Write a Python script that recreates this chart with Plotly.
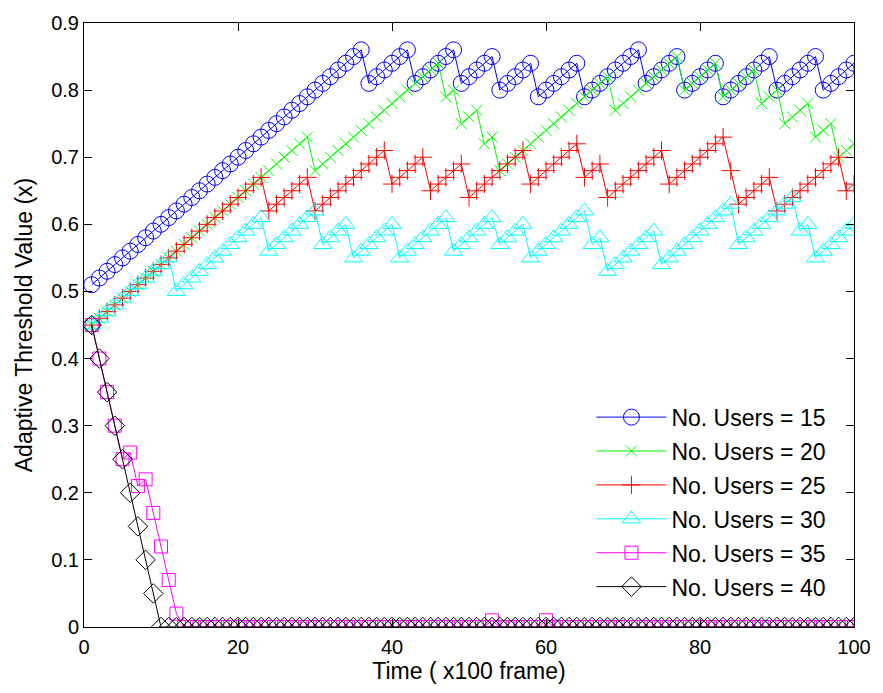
import plotly.graph_objects as go

# Time axis (x100 frame)
time = list(range(1, 101))

users_15 = [
    0.51, 0.52, 0.53, 0.54, 0.55, 0.56, 0.57, 0.58, 0.59, 0.60,
    0.61, 0.62, 0.63, 0.64, 0.65, 0.66, 0.67, 0.68, 0.69, 0.70,
    0.71, 0.72, 0.73, 0.74, 0.75, 0.76, 0.77, 0.78, 0.79, 0.80,
    0.81, 0.82, 0.83, 0.84, 0.85, 0.86, 0.81, 0.82, 0.83, 0.84,
    0.85, 0.86, 0.81, 0.82, 0.83, 0.84, 0.85, 0.86, 0.81, 0.82,
    0.83, 0.84, 0.85, 0.80, 0.81, 0.82, 0.83, 0.84, 0.79, 0.80,
    0.81, 0.82, 0.83, 0.84, 0.79, 0.80, 0.81, 0.82, 0.83, 0.84,
    0.85, 0.86, 0.81, 0.82, 0.83, 0.84, 0.85, 0.80, 0.81, 0.82,
    0.83, 0.84, 0.79, 0.80, 0.81, 0.82, 0.83, 0.84, 0.85, 0.80,
    0.81, 0.82, 0.83, 0.84, 0.85, 0.80, 0.81, 0.82, 0.83, 0.84,
]

users_20 = [
    0.45, 0.46, 0.47, 0.48, 0.49, 0.50, 0.51, 0.52, 0.53, 0.54,
    0.55, 0.56, 0.57, 0.58, 0.59, 0.60, 0.61, 0.62, 0.63, 0.64,
    0.65, 0.66, 0.67, 0.68, 0.69, 0.70, 0.71, 0.72, 0.73, 0.68,
    0.69, 0.70, 0.71, 0.72, 0.73, 0.74, 0.75, 0.76, 0.77, 0.78,
    0.79, 0.80, 0.81, 0.82, 0.83, 0.84, 0.79, 0.80, 0.75, 0.76,
    0.77, 0.72, 0.73, 0.68, 0.69, 0.70, 0.71, 0.72, 0.73, 0.74,
    0.75, 0.76, 0.77, 0.78, 0.79, 0.80, 0.81, 0.82, 0.77, 0.78,
    0.79, 0.80, 0.81, 0.82, 0.83, 0.84, 0.85, 0.80, 0.81, 0.82,
    0.83, 0.84, 0.79, 0.80, 0.81, 0.82, 0.83, 0.78, 0.79, 0.80,
    0.75, 0.76, 0.77, 0.78, 0.73, 0.74, 0.75, 0.70, 0.71, 0.72,
]

users_25 = [
    0.45, 0.46, 0.47, 0.48, 0.49, 0.50, 0.51, 0.52, 0.53, 0.54,
    0.55, 0.56, 0.57, 0.58, 0.59, 0.60, 0.61, 0.62, 0.63, 0.64,
    0.65, 0.66, 0.67, 0.62, 0.63, 0.64, 0.65, 0.66, 0.67, 0.62,
    0.63, 0.64, 0.65, 0.66, 0.67, 0.68, 0.69, 0.70, 0.71, 0.66,
    0.67, 0.68, 0.69, 0.70, 0.65, 0.66, 0.67, 0.68, 0.69, 0.64,
    0.65, 0.66, 0.67, 0.68, 0.69, 0.70, 0.71, 0.66, 0.67, 0.68,
    0.69, 0.70, 0.71, 0.72, 0.67, 0.68, 0.69, 0.64, 0.65, 0.66,
    0.67, 0.68, 0.69, 0.70, 0.71, 0.66, 0.67, 0.68, 0.69, 0.70,
    0.71, 0.72, 0.73, 0.68, 0.63, 0.64, 0.65, 0.66, 0.67, 0.62,
    0.63, 0.64, 0.65, 0.66, 0.67, 0.68, 0.69, 0.70, 0.65, 0.66,
]

users_30 = [
    0.45, 0.46, 0.47, 0.48, 0.49, 0.50, 0.51, 0.52, 0.53, 0.54,
    0.55, 0.50, 0.51, 0.52, 0.53, 0.54, 0.55, 0.56, 0.57, 0.58,
    0.59, 0.60, 0.61, 0.56, 0.57, 0.58, 0.59, 0.60, 0.61, 0.62,
    0.57, 0.58, 0.59, 0.60, 0.55, 0.56, 0.57, 0.58, 0.59, 0.60,
    0.55, 0.56, 0.57, 0.58, 0.59, 0.60, 0.61, 0.56, 0.57, 0.58,
    0.59, 0.60, 0.61, 0.57, 0.58, 0.59, 0.60, 0.55, 0.56, 0.57,
    0.58, 0.59, 0.60, 0.61, 0.62, 0.57, 0.58, 0.53, 0.54, 0.55,
    0.56, 0.57, 0.58, 0.59, 0.54, 0.55, 0.56, 0.57, 0.58, 0.59,
    0.60, 0.61, 0.62, 0.63, 0.57, 0.58, 0.59, 0.60, 0.61, 0.62,
    0.63, 0.64, 0.59, 0.60, 0.55, 0.56, 0.57, 0.58, 0.59, 0.60,
]

users_35 = [
    0.45, 0.40, 0.35, 0.30, 0.25, 0.26, 0.21, 0.22, 0.17, 0.12,
    0.07, 0.02, 0.00, 0.00, 0.00, 0.00, 0.00, 0.00, 0.00, 0.00,
    0.00, 0.00, 0.00, 0.00, 0.00, 0.00, 0.00, 0.00, 0.00, 0.00,
    0.00, 0.00, 0.00, 0.00, 0.00, 0.00, 0.00, 0.00, 0.00, 0.00,
    0.00, 0.00, 0.00, 0.00, 0.00, 0.00, 0.00, 0.00, 0.00, 0.00,
    0.00, 0.00, 0.01, 0.00, 0.00, 0.00, 0.00, 0.00, 0.00, 0.01,
    0.00, 0.00, 0.00, 0.00, 0.00, 0.00, 0.00, 0.00, 0.00, 0.00,
    0.00, 0.00, 0.00, 0.00, 0.00, 0.00, 0.00, 0.00, 0.00, 0.00,
    0.00, 0.00, 0.00, 0.00, 0.00, 0.00, 0.00, 0.00, 0.00, 0.00,
    0.00, 0.00, 0.00, 0.00, 0.00, 0.00, 0.00, 0.00, 0.00, 0.00,
]

users_40 = [
    0.45, 0.40, 0.35, 0.30, 0.25, 0.20, 0.15, 0.10, 0.05, 0.00,
    0.00, 0.00, 0.00, 0.00, 0.00, 0.00, 0.00, 0.00, 0.00, 0.00,
    0.00, 0.00, 0.00, 0.00, 0.00, 0.00, 0.00, 0.00, 0.00, 0.00,
    0.00, 0.00, 0.00, 0.00, 0.00, 0.00, 0.00, 0.00, 0.00, 0.00,
    0.00, 0.00, 0.00, 0.00, 0.00, 0.00, 0.00, 0.00, 0.00, 0.00,
    0.00, 0.00, 0.00, 0.00, 0.00, 0.00, 0.00, 0.00, 0.00, 0.00,
    0.00, 0.00, 0.00, 0.00, 0.00, 0.00, 0.00, 0.00, 0.00, 0.00,
    0.00, 0.00, 0.00, 0.00, 0.00, 0.00, 0.00, 0.00, 0.00, 0.00,
    0.00, 0.00, 0.00, 0.00, 0.00, 0.00, 0.00, 0.00, 0.00, 0.00,
    0.00, 0.00, 0.00, 0.00, 0.00, 0.00, 0.00, 0.00, 0.00, 0.00,
]

series_names = ["No. Users = 15", "No. Users = 20", "No. Users = 25",
                "No. Users = 30", "No. Users = 35", "No. Users = 40"]
series_values = [users_15, users_20, users_25, users_30, users_35, users_40]

x_ticks = [0, 20, 40, 60, 80, 100]
y_ticks = [0, 0.1, 0.2, 0.3, 0.4, 0.5, 0.6, 0.7, 0.8, 0.9]
y_tick_text = ["0", "0.1", "0.2", "0.3", "0.4", "0.5", "0.6", "0.7", "0.8", "0.9"]

styles = [
    ("#0000ff", "circle-open", 16),
    ("#00ff00", "x-thin-open", 11),
    ("#ff0000", "cross-thin-open", 13),
    ("#00ffff", "triangle-up-open", 16),
    ("#ff00ff", "square-open", 13),
    ("#000000", "diamond-open", 15),
]

FONT = "Liberation Sans, Arial, Helvetica, sans-serif"

fig = go.Figure()
for i, (name, vals, (color, symbol, size)) in enumerate(
        zip(series_names, series_values, styles)):
    fig.add_trace(go.Scatter(
        x=time, y=vals, name=name, mode="lines+markers",
        legendgroup=f"series{i}",
        line=dict(color=color, width=1),
        marker=dict(symbol=symbol, size=size, color=color,
                    line=dict(color=color, width=1)),
    ))

axis_common = dict(
    showline=True, linecolor="black", linewidth=1, mirror="ticks",
    ticks="inside", ticklen=8, tickcolor="black", tickwidth=1,
    showgrid=False, zeroline=False,
    tickfont=dict(family=FONT, size=20, color="black"),
)

fig.update_layout(
    width=883, height=693,
    margin=dict(l=84, r=24, t=15, b=66),
    paper_bgcolor="white", plot_bgcolor="white",
    font=dict(family=FONT, size=20, color="black"),
    showlegend=True,
    legend=dict(
        x=0.659, y=0.383, xanchor="left", yanchor="top",
        bgcolor="rgba(255,255,255,0)", borderwidth=0,
        font=dict(family=FONT, size=23, color="black"),
        itemwidth=70, tracegroupgap=1,
    ),
    xaxis=dict(
        range=[0, 100], tickvals=x_ticks, ticklabelstandoff=2,
        title=dict(text="Time ( x100 frame)", standoff=4,
                   font=dict(family=FONT, size=23, color="black")),
        **axis_common,
    ),
    yaxis=dict(
        range=[0, 0.9], tickvals=y_ticks, ticktext=y_tick_text,
        ticklabelstandoff=0,
        title=dict(text="Adaptive Threshold Value (x)", standoff=12,
                   font=dict(family=FONT, size=23, color="black")),
        **axis_common,
    ),
)

fig.write_html("out.html")
